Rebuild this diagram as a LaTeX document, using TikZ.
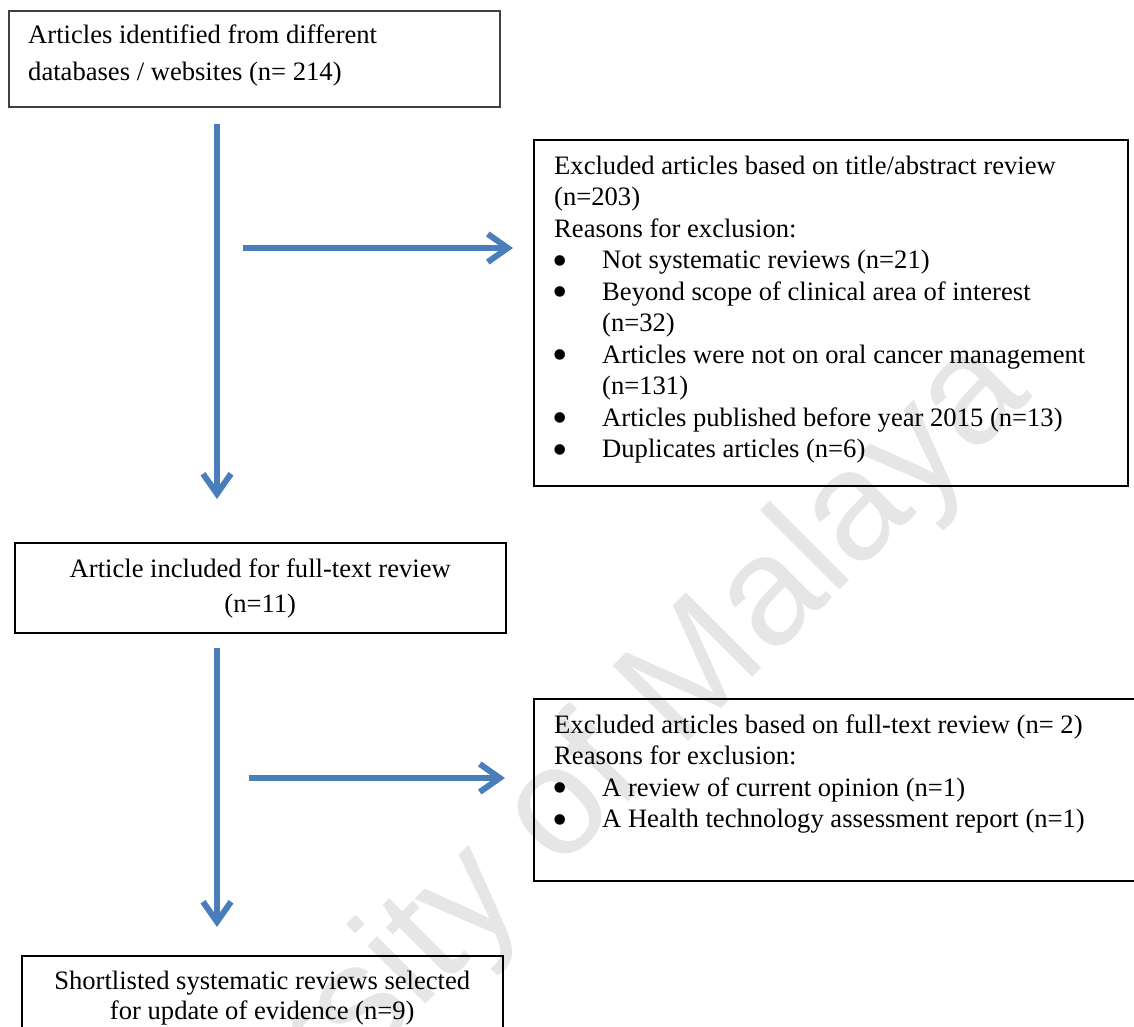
\documentclass[tikz,border=0pt]{standalone}
\usepackage{fontspec}
\setmainfont{Liberation Serif}
\newfontfamily\wmfont{Liberation Sans}
\usetikzlibrary{arrows.meta,calc}
\definecolor{arrowblue}{HTML}{4A7EBB}
\definecolor{wmgray}{HTML}{E6E6E6}
\definecolor{boxgray}{HTML}{404040}
\newcommand{\bul}{\makebox[48pt][l]{\hspace*{-2pt}\raisebox{-6.5pt}{\fontsize{44}{44}\selectfont\textbullet}}}
\tikzset{
  boxnode/.style={draw=black, line width=1.5pt, anchor=north west, inner sep=0pt},
  txtleft/.style={anchor=base west, inner sep=0pt},
  txtcenter/.style={anchor=base, inner sep=0pt},
  flow/.style={draw=arrowblue, line width=6pt, -{Straight Barb[length=20pt,width=28pt]}},
  wm/.style={anchor=base, rotate=45, inner sep=0pt, text=wmgray, font=\wmfont\fontsize{155}{155}\selectfont}
}
\begin{document}
\begin{tikzpicture}[x=1pt,y=-1pt]
\useasboundingbox (0,0) rectangle (1134,1026);
% watermark
\begin{scope}
\clip (0,0) rectangle (1134,1026);
\node[wm] (wm) at (540,890) {University of Malaya};
\end{scope}
% boxes
\node[boxnode, draw=boxgray, minimum width=491pt, minimum height=96pt] (b1) at (8,10) {};
\node[boxnode, minimum width=594pt, minimum height=346pt] (b2) at (533,139) {};
\node[boxnode, minimum width=491pt, minimum height=90pt] (b3) at (14,542) {};
\node[boxnode, minimum width=620pt, minimum height=182pt] (b4) at (533,698) {};
\node[boxnode, minimum width=481pt, minimum height=100pt] (b5) at (21,955) {};
% texts
\node[txtleft] (t1) at ($(b1.north west)+(20,33.5)$) {\parbox[t]{470pt}{\fontsize{26.6}{36.5}\selectfont
Articles identified from different\\
databases / websites (n= 214)}};
\node[txtleft] (t2) at ($(b2.north west)+(21,35)$) {\parbox[t]{580pt}{\fontsize{26.6}{31.5}\selectfont
Excluded articles based on title/abstract review\\
(n=203)\\
Reasons for exclusion:\\
\bul Not systematic reviews (n=21)\\
\bul Beyond scope of clinical area of interest\\
\hspace*{48pt}(n=32)\\
\bul Articles were not on oral cancer management\\
\hspace*{48pt}(n=131)\\
\bul Articles published before year 2015 (n=13)\\
\bul Duplicates articles (n=6)}};
\node[txtcenter] (t3) at ($(b3.north)+(0,35)$) {\parbox[t]{480pt}{\centering\fontsize{26.6}{35}\selectfont
Article included for full-text review\\
(n=11)}};
\node[txtleft] (t4) at ($(b4.north west)+(21,35)$) {\parbox[t]{580pt}{\fontsize{26.6}{31.5}\selectfont
Excluded articles based on full-text review (n= 2)\\
Reasons for exclusion:\\
\bul A review of current opinion (n=1)\\
\bul A Health technology assessment report (n=1)}};
\node[txtcenter] (t5) at ($(b5.north)+(0,34)$) {\parbox[t]{480pt}{\centering\fontsize{26.6}{30}\selectfont
Shortlisted systematic reviews selected\\
for update of evidence (n=9)}};
% connectors
\coordinate (v1s) at (217,124);
\coordinate (v1e) at (217,499);
\coordinate (h1s) at (243,248);
\coordinate (h1e) at (513,248);
\coordinate (v2s) at (217,648);
\coordinate (v2e) at (217,927);
\coordinate (h2s) at (249,778);
\coordinate (h2e) at (505,778);
\draw[flow] (v1s) -- (v1e);
\draw[flow] (h1s) -- (h1e);
\draw[flow] (v2s) -- (v2e);
\draw[flow] (h2s) -- (h2e);
\end{tikzpicture}
\end{document}
